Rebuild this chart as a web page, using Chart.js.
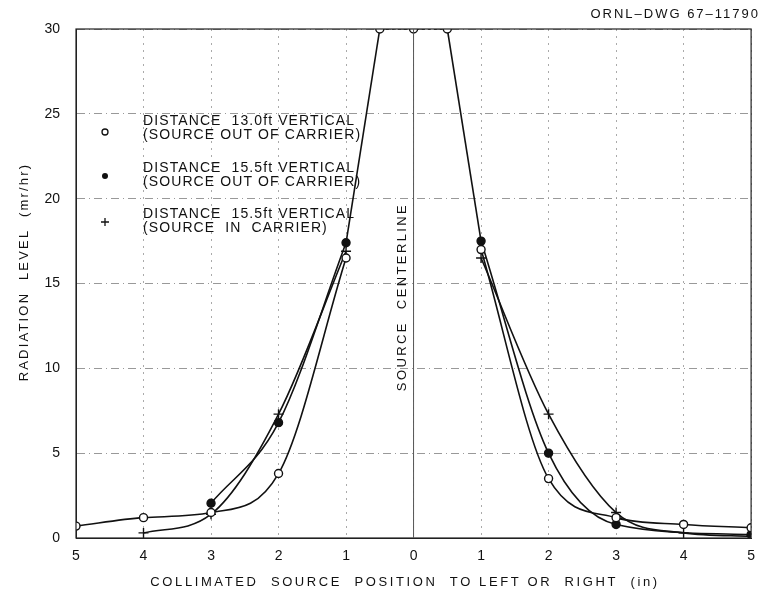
<!DOCTYPE html>
<html>
<head>
<meta charset="utf-8">
<script src="https://cdn.jsdelivr.net/npm/chart.js@4/dist/chart.umd.min.js"></script>
<style>
  html, body { margin: 0; padding: 0; background: #fff; }
  #wrap { width: 765px; height: 594px; }
</style>
</head>
<body>
<div id="wrap"><canvas id="radChart" width="765" height="594"></canvas></div>
<script>
// positions (inches) each side of the source centerline
var leftPos = [-5, -4, -3, -2, -1];
var rightPos = [1, 2, 3, 4, 5];

// 13.0 ft vertical, source out of carrier (open circles)
var dist13OutL = [0.7, 1.2, 1.5, 3.8, 16.5];
var dist13OutR = [17.0, 3.5, 1.2, 0.8, 0.6];
// 15.5 ft vertical, source out of carrier (filled circles)
var dist155OutL = [null, null, 2.05, 6.8, 17.4];
var dist155OutR = [17.5, 5.0, 0.8, null, 0.2];
// 15.5 ft vertical, source in carrier (plus)
var dist155InL = [null, 0.3, 1.4, 7.3, 16.9];
var dist155InR = [16.5, 7.3, 1.5, 0.3, 0.1];

// near the centerline the reading is off scale (30)
var peakPos = [-1, -0.5, 0, 0.5, 1];
var peakValues = [17.4, 30, 30, 30, 17.5];

var yTicks = [0, 5, 10, 15, 20, 25, 30];

var legendLines = [
    ['DISTANCE  13.0ft VERTICAL', '(SOURCE OUT OF CARRIER)'],
    ['DISTANCE  15.5ft VERTICAL', '(SOURCE OUT OF CARRIER)'],
    ['DISTANCE  15.5ft VERTICAL', '(SOURCE  IN  CARRIER)']
];

var FONT = '"Liberation Sans", Arial, sans-serif';

function toPoints(xs, ys) {
    var pts = [];
    for (var i = 0; i < xs.length; i++) {
        pts.push({x: xs[i], y: ys[i]});
    }
    return pts;
}

function seriesSet(label, xs, values, style, bg) {
    return {
        label: label,
        data: toPoints(xs, values),
        borderColor: '#111',
        backgroundColor: bg,
        borderWidth: 1.6,
        pointStyle: style,
        pointRadius: style === 'cross' ? 5 : 4,
        pointBorderWidth: 1.4,
        pointBorderColor: '#111',
        pointBackgroundColor: bg,
        cubicInterpolationMode: 'monotone',
        spanGaps: true
    };
}

var extras = {
    id: 'extras',
    afterDraw: function(chart) {
        var ctx = chart.ctx;
        var a = chart.chartArea;
        var xs = chart.scales.x;
        ctx.save();
        // frame and centerline
        ctx.strokeStyle = '#222';
        ctx.lineWidth = 1.2;
        ctx.strokeRect(a.left, a.top, a.right - a.left, a.bottom - a.top);
        var cx = xs.getPixelForValue(0);
        ctx.strokeStyle = '#555';
        ctx.lineWidth = 1;
        ctx.beginPath();
        ctx.moveTo(cx, a.top);
        ctx.lineTo(cx, a.bottom);
        ctx.stroke();

        ctx.fillStyle = '#111';
        ctx.textBaseline = 'middle';

        // legend
        var legY = [121, 168, 214];
        var markY = [132, 176, 222];
        ctx.font = '14px ' + FONT;
        ctx.textAlign = 'left';
        ctx.letterSpacing = '1.1px';
        for (var i = 0; i < 3; i++) {
            ctx.fillText(legendLines[i][0], 143, legY[i]);
            ctx.fillText(legendLines[i][1], 143, legY[i] + 14);
        }
        ctx.letterSpacing = '0px';
        ctx.lineWidth = 1.3;
        ctx.strokeStyle = '#111';
        ctx.beginPath();
        ctx.arc(105, markY[0], 3, 0, Math.PI * 2);
        ctx.stroke();
        ctx.beginPath();
        ctx.arc(105, markY[1], 3, 0, Math.PI * 2);
        ctx.fill();
        ctx.beginPath();
        ctx.moveTo(101, markY[2]); ctx.lineTo(109, markY[2]);
        ctx.moveTo(105, markY[2] - 4); ctx.lineTo(105, markY[2] + 4);
        ctx.stroke();

        // drawing number
        ctx.font = '13px ' + FONT;
        ctx.textAlign = 'right';
        ctx.letterSpacing = '2px';
        ctx.fillText('ORNL\u2013DWG 67\u201311790', 760, 14);

        // x title
        ctx.textAlign = 'center';
        ctx.letterSpacing = '2.6px';
        ctx.fillText('COLLIMATED  SOURCE  POSITION  TO LEFT OR  RIGHT  (in)', 405, 582);

        // y title
        ctx.save();
        ctx.translate(24, 272);
        ctx.rotate(-Math.PI / 2);
        ctx.letterSpacing = '2.2px';
        ctx.fillText('RADIATION  LEVEL  (mr/hr)', 0, 0);
        ctx.restore();

        // centerline label
        ctx.save();
        ctx.translate(402, 297);
        ctx.rotate(-Math.PI / 2);
        ctx.letterSpacing = '2.4px';
        ctx.fillText('SOURCE  CENTERLINE', 0, 0);
        ctx.restore();

        ctx.restore();
    }
};

var ctx = document.getElementById('radChart').getContext('2d');
var chart = new Chart(ctx, {
    type: 'line',
    data: {
        datasets: [
            seriesSet('13.0 ft, out of carrier (left)', leftPos, dist13OutL, 'circle', '#fff'),
            seriesSet('13.0 ft, out of carrier (right)', rightPos, dist13OutR, 'circle', '#fff'),
            seriesSet('15.5 ft, out of carrier (left)', leftPos, dist155OutL, 'circle', '#111'),
            seriesSet('15.5 ft, out of carrier (right)', rightPos, dist155OutR, 'circle', '#111'),
            seriesSet('15.5 ft, in carrier (left)', leftPos, dist155InL, 'cross', '#111'),
            seriesSet('15.5 ft, in carrier (right)', rightPos, dist155InR, 'cross', '#111'),
            {
                label: 'off scale',
                data: toPoints(peakPos, peakValues),
                borderColor: '#111',
                borderWidth: 1.6,
                pointStyle: 'circle',
                pointRadius: [0, 4, 4, 4, 0],
                pointBorderWidth: 1.4,
                pointBorderColor: '#111',
                pointBackgroundColor: '#fff',
                tension: 0,
                segment: {
                    borderDash: function(c) {
                        return (c.p0.parsed.x >= -0.5 && c.p1.parsed.x <= 0.5) ? [3, 3] : undefined;
                    }
                }
            }
        ]
    },
    options: {
        responsive: false,
        animation: false,
        layout: { padding: { top: 29, right: 4, left: 0, bottom: 0 } },
        plugins: {
            legend: { display: false },
            tooltip: { enabled: false }
        },
        scales: {
            x: {
                type: 'linear',
                min: -5,
                max: 5,
                afterFit: function(s) { s.height = 56; },
                ticks: {
                    stepSize: 1,
                    color: '#111',
                    padding: 10,
                    font: { family: FONT, size: 14 },
                    callback: function(v) { return Math.abs(v); }
                },
                grid: {
                    color: '#aaa',
                    lineWidth: 1,
                    drawTicks: false
                },
                border: { display: true, color: '#222', dash: [2, 5] }
            },
            y: {
                min: 0,
                max: 30,
                afterFit: function(s) { s.width = 76; },
                afterBuildTicks: function(s) {
                    s.ticks = yTicks.map(function(v) { return {value: v}; });
                },
                ticks: {
                    color: '#111',
                    padding: 16,
                    font: { family: FONT, size: 14 }
                },
                grid: {
                    color: '#999',
                    drawTicks: false
                },
                border: { display: true, color: '#222', dash: [8, 4, 1, 4] }
            }
        }
    },
    plugins: [extras]
});
</script>
</body>
</html>
